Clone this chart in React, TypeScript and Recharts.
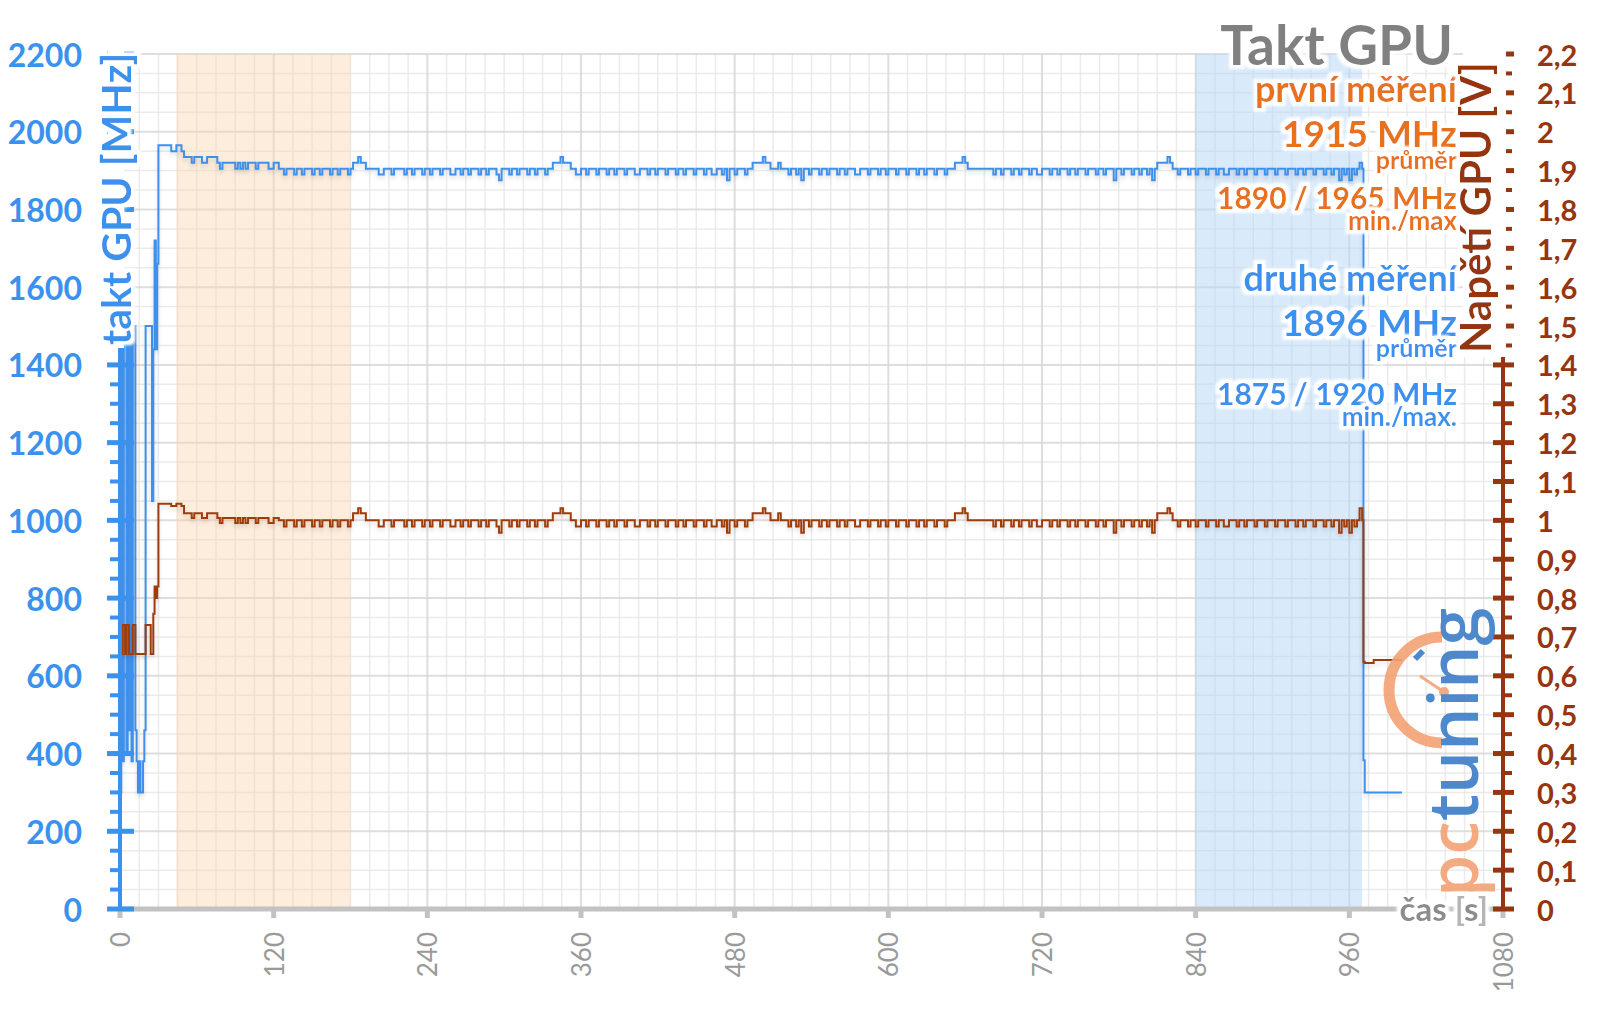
import { CartesianGrid, Line, LineChart, ReferenceArea, XAxis, YAxis } from 'recharts';

// colours
const BLUE = '#3b92ee';
const BLUE_LINE = '#3f90ea';
const BROWN = '#963510';
const BROWN_LINE = '#a03c0a';
const ORANGE = '#e8711c';
const GREY = '#808080';
const FONT = 'Lato, "Open Sans", sans-serif';

// first ~30 s, sampled every second
const warmupSeconds = [0, 1, 2, 3, 4, 5, 6, 7, 8, 9, 10, 11, 12, 13, 14, 15, 16, 17, 18, 19, 20, 21, 22, 23, 24, 25, 26, 27, 28, 29, 30, 31];
const warmupClockMHz = [300, 1450, 380, 1460, 1460, 400, 1470, 460, 1500, 380, 1500, 1500, 460, 380, 300, 380, 300, 300, 380, 460, 1500, 1500, 1500, 1500, 1500, 1050, 1440, 1720, 1440, 1660, 1965, 1965];
const warmupVoltageV = [0.656, 0.656, 0.731, 0.731, 0.656, 0.731, 0.731, 0.656, 0.656, 0.656, 0.731, 0.731, 0.656, 0.656, 0.656, 0.656, 0.656, 0.656, 0.656, 0.656, 0.731, 0.731, 0.731, 0.731, 0.656, 0.656, 0.76, 0.83, 0.8, 0.83, 1.043, 1.043];

// load phase, one sample every 2 s from 32 s to 970 s
const steadyStartS = 32;
const steadyStepS = 2;
const steadyClockMHz = [
    1965, 1965, 1965, 1965, 1950, 1950, 1965, 1965, 1950, 1935, // 32
    1935, 1935, 1920, 1935, 1935, 1935, 1920, 1920, 1935, 1935, // 52
    1935, 1935, 1920, 1905, 1920, 1920, 1920, 1920, 1920, 1905, // 72
    1920, 1905, 1920, 1905, 1920, 1920, 1920, 1905, 1920, 1920, // 92
    1920, 1920, 1905, 1905, 1920, 1920, 1905, 1905, 1890, 1905, // 112
    1905, 1905, 1890, 1905, 1905, 1890, 1905, 1905, 1905, 1890, // 132
    1905, 1905, 1890, 1905, 1905, 1905, 1890, 1905, 1905, 1890, // 152
    1905, 1905, 1905, 1890, 1905, 1920, 1920, 1935, 1920, 1920, // 172
    1905, 1905, 1905, 1905, 1905, 1890, 1890, 1905, 1905, 1905, // 192
    1890, 1905, 1905, 1905, 1905, 1890, 1905, 1905, 1890, 1905, // 212
    1905, 1905, 1890, 1905, 1905, 1890, 1905, 1905, 1905, 1890, // 232
    1905, 1905, 1905, 1890, 1890, 1905, 1905, 1890, 1905, 1905, // 252
    1890, 1905, 1905, 1905, 1890, 1905, 1905, 1890, 1905, 1905, // 272
    1905, 1890, 1875, 1905, 1905, 1905, 1890, 1905, 1905, 1890, // 292
    1905, 1905, 1905, 1890, 1905, 1905, 1890, 1905, 1905, 1905, // 312
    1890, 1905, 1905, 1920, 1920, 1920, 1935, 1920, 1920, 1920, // 332
    1905, 1905, 1890, 1890, 1905, 1905, 1890, 1905, 1905, 1905, // 352
    1890, 1905, 1905, 1905, 1890, 1905, 1905, 1890, 1905, 1905, // 372
    1905, 1890, 1905, 1905, 1905, 1890, 1890, 1905, 1905, 1905, // 392
    1890, 1905, 1905, 1890, 1905, 1905, 1905, 1890, 1905, 1905, // 412
    1905, 1890, 1905, 1905, 1890, 1905, 1905, 1905, 1890, 1905, // 432
    1905, 1905, 1890, 1905, 1905, 1890, 1890, 1905, 1905, 1890, // 452
    1905, 1875, 1905, 1905, 1890, 1905, 1905, 1905, 1890, 1905, // 472
    1905, 1920, 1920, 1920, 1920, 1935, 1920, 1920, 1905, 1905, // 492
    1905, 1920, 1905, 1905, 1905, 1890, 1905, 1905, 1890, 1905, // 512
    1875, 1905, 1905, 1890, 1905, 1905, 1905, 1890, 1905, 1905, // 532
    1890, 1905, 1905, 1905, 1890, 1905, 1905, 1890, 1905, 1905, // 552
    1905, 1890, 1890, 1905, 1905, 1905, 1890, 1905, 1905, 1905, // 572
    1890, 1905, 1905, 1890, 1905, 1905, 1905, 1890, 1905, 1905, // 592
    1905, 1890, 1905, 1905, 1905, 1890, 1905, 1905, 1890, 1905, // 612
    1905, 1905, 1890, 1905, 1905, 1905, 1890, 1905, 1905, 1905, // 632
    1920, 1920, 1920, 1935, 1920, 1905, 1905, 1905, 1905, 1905, // 652
    1905, 1905, 1905, 1905, 1905, 1890, 1905, 1905, 1890, 1905, // 672
    1905, 1905, 1890, 1905, 1905, 1890, 1905, 1905, 1905, 1890, // 692
    1905, 1905, 1890, 1890, 1905, 1905, 1905, 1890, 1905, 1905, // 712
    1890, 1905, 1905, 1905, 1890, 1905, 1905, 1890, 1905, 1905, // 732
    1905, 1890, 1905, 1905, 1905, 1890, 1905, 1905, 1890, 1905, // 752
    1905, 1905, 1875, 1905, 1905, 1890, 1905, 1905, 1905, 1890, // 772
    1905, 1905, 1890, 1905, 1905, 1890, 1905, 1875, 1905, 1920, // 792
    1920, 1920, 1920, 1935, 1920, 1905, 1905, 1890, 1905, 1905, // 812
    1905, 1890, 1905, 1905, 1890, 1905, 1905, 1905, 1890, 1905, // 832
    1905, 1905, 1890, 1905, 1905, 1890, 1890, 1905, 1905, 1905, // 852
    1890, 1905, 1905, 1890, 1905, 1905, 1905, 1890, 1905, 1905, // 872
    1905, 1890, 1905, 1905, 1905, 1890, 1905, 1905, 1905, 1890, // 892
    1905, 1905, 1905, 1890, 1905, 1905, 1890, 1905, 1905, 1905, // 912
    1890, 1905, 1905, 1905, 1890, 1905, 1905, 1890, 1905, 1905, // 932
    1875, 1905, 1890, 1905, 1875, 1905, 1890, 1905, 1920, 1905, // 952
];
const steadyVoltageV = [
    1.043, 1.043, 1.043, 1.043, 1.037, 1.037, 1.043, 1.043, 1.037, 1.018, // 32
    1.018, 1.018, 1.006, 1.018, 1.018, 1.018, 1.006, 1.006, 1.018, 1.018, // 52
    1.018, 1.018, 1.006, 0.993, 1.006, 1.006, 1.006, 1.006, 1.006, 0.993, // 72
    1.006, 0.993, 1.006, 0.993, 1.006, 1.006, 1.006, 0.993, 1.006, 1.006, // 92
    1.006, 1.006, 0.993, 0.993, 1.006, 1.006, 1, 1, 0.984, 1, // 112
    1, 1, 0.984, 1, 1, 0.984, 1, 1, 1, 0.984, // 132
    1, 1, 0.984, 1, 1, 1, 0.984, 1, 1, 0.984, // 152
    1, 1, 1, 0.984, 1, 1.018, 1.018, 1.031, 1.018, 1.018, // 172
    1, 1, 1, 1, 1, 0.984, 0.984, 1, 1, 1, // 192
    0.984, 1, 1, 1, 1, 0.984, 1, 1, 0.984, 1, // 212
    1, 1, 0.984, 1, 1, 0.984, 1, 1, 1, 0.984, // 232
    1, 1, 1, 0.984, 0.984, 1, 1, 0.984, 1, 1, // 252
    0.984, 1, 1, 1, 0.984, 1, 1, 0.984, 1, 1, // 272
    1, 0.984, 0.968, 1, 1, 1, 0.984, 1, 1, 0.984, // 292
    1, 1, 1, 0.984, 1, 1, 0.984, 1, 1, 1, // 312
    0.984, 1, 1, 1.018, 1.018, 1.018, 1.031, 1.018, 1.018, 1.018, // 332
    1, 1, 0.984, 0.984, 1, 1, 0.984, 1, 1, 1, // 352
    0.984, 1, 1, 1, 0.984, 1, 1, 0.984, 1, 1, // 372
    1, 0.984, 1, 1, 1, 0.984, 0.984, 1, 1, 1, // 392
    0.984, 1, 1, 0.984, 1, 1, 1, 0.984, 1, 1, // 412
    1, 0.984, 1, 1, 0.984, 1, 1, 1, 0.984, 1, // 432
    1, 1, 0.984, 1, 1, 0.984, 0.984, 1, 1, 0.984, // 452
    1, 0.968, 1, 1, 0.984, 1, 1, 1, 0.984, 1, // 472
    1, 1.018, 1.018, 1.018, 1.018, 1.031, 1.018, 1.018, 1, 1, // 492
    1, 1.018, 1, 1, 1, 0.984, 1, 1, 0.984, 1, // 512
    0.968, 1, 1, 0.984, 1, 1, 1, 0.984, 1, 1, // 532
    0.984, 1, 1, 1, 0.984, 1, 1, 0.984, 1, 1, // 552
    1, 0.984, 0.984, 1, 1, 1, 0.984, 1, 1, 1, // 572
    0.984, 1, 1, 0.984, 1, 1, 1, 0.984, 1, 1, // 592
    1, 0.984, 1, 1, 1, 0.984, 1, 1, 0.984, 1, // 612
    1, 1, 0.984, 1, 1, 1, 0.984, 1, 1, 1, // 632
    1.018, 1.018, 1.018, 1.031, 1.018, 1, 1, 1, 1, 1, // 652
    1, 1, 1, 1, 1, 0.984, 1, 1, 0.984, 1, // 672
    1, 1, 0.984, 1, 1, 0.984, 1, 1, 1, 0.984, // 692
    1, 1, 0.984, 0.984, 1, 1, 1, 0.984, 1, 1, // 712
    0.984, 1, 1, 1, 0.984, 1, 1, 0.984, 1, 1, // 732
    1, 0.984, 1, 1, 1, 0.984, 1, 1, 0.984, 1, // 752
    1, 1, 0.968, 1, 1, 0.984, 1, 1, 1, 0.984, // 772
    1, 1, 0.984, 1, 1, 0.984, 1, 0.968, 1, 1.018, // 792
    1.018, 1.018, 1.018, 1.031, 1.018, 1, 1, 0.984, 1, 1, // 812
    1, 0.984, 1, 1, 0.984, 1, 1, 1, 0.984, 1, // 832
    1, 1, 0.984, 1, 1, 0.984, 0.984, 1, 1, 1, // 852
    0.984, 1, 1, 0.984, 1, 1, 1, 0.984, 1, 1, // 872
    1, 0.984, 1, 1, 1, 0.984, 1, 1, 1, 0.984, // 892
    1, 1, 1, 0.984, 1, 1, 0.984, 1, 1, 1, // 912
    0.984, 1, 1, 1, 0.984, 1, 1, 0.984, 1, 1, // 932
    0.968, 1, 0.984, 1, 0.968, 1, 0.984, 1, 1.031, 1, // 952
];

// after the load stops
const cooldownSeconds = [971, 972, 978, 979, 1001];
const cooldownClockMHz = [383, 300, 300, 300, 300];
const cooldownVoltageV = [0.636, 0.633, 0.633, 0.641, 0.641];

// highlighted measuring windows
const firstWindowS = [44, 180];
const secondWindowS = [840, 970];

const timeTicks = [0, 120, 240, 360, 480, 600, 720, 840, 960, 1080];
const timeMinorStep = 15;
const clockLabelStep = 200;
const clockMinorStep = 50;
const clockMax = 2200;
const voltMax = 2.2;

const chartData = [
    ...warmupSeconds.map((t, i) => ({ t, clock: warmupClockMHz[i], volt: warmupVoltageV[i] })),
    ...steadyClockMHz.map((clock, i) => ({ t: steadyStartS + i * steadyStepS, clock, volt: steadyVoltageV[i] })),
    ...cooldownSeconds.map((t, i) => ({ t, clock: cooldownClockMHz[i], volt: cooldownVoltageV[i] })),
];

const clockTicks = Array.from({ length: clockMax / clockMinorStep + 1 }, (_, i) => i * clockMinorStep);
const voltTicks = Array.from({ length: 45 }, (_, i) => Math.round(i * 5) / 100);
const timeMinor = Array.from({ length: 1080 / timeMinorStep + 1 }, (_, i) => i * timeMinorStep).filter(v => v % 120 !== 0);
const clockMinor = clockTicks.filter(v => v % clockLabelStep !== 0);
const clockMajor = clockTicks.filter(v => v % clockLabelStep === 0);

const fmtVolt = (v: number) => (Math.abs(v - Math.round(v)) < 1e-6 ? String(Math.round(v)) : v.toFixed(1).replace('.', ','));

function ClockTick({ x, y, payload }: any) {
    const major = payload.value % clockLabelStep === 0;
    return (
        <g>
            <line x1={major ? x - 13 : x - 10} x2={major ? x + 14 : x - 1} y1={y} y2={y} stroke={BLUE} strokeWidth={major ? 5 : 4} />
            {major && (
                <text x={x - 38} y={y} textAnchor="end" dominantBaseline="central" fill={BLUE} fontSize={32} fontWeight={700} fontFamily={FONT}>
                    {payload.value}
                </text>
            )}
        </g>
    );
}

function VoltTick({ x, y, payload }: any) {
    const major = Math.round(payload.value * 100) % 10 === 0;
    return (
        <g>
            <line x1={major ? x - 10 : x} x2={major ? x + 11 : x + 9} y1={y} y2={y} stroke={BROWN} strokeWidth={major ? 5 : 4} />
            {major && (
                <text x={x + 34} y={y} textAnchor="start" dominantBaseline="central" fill={BROWN} fontSize={29} fontWeight={700} fontFamily={FONT}>
                    {fmtVolt(payload.value)}
                </text>
            )}
        </g>
    );
}

function TimeTick({ x, y, payload }: any) {
    return (
        <g>
            <line x1={x} x2={x} y1={y} y2={y + 9} stroke="#c2c2c2" strokeWidth={5} />
            <text x={x} y={y + 23} transform={`rotate(-90, ${x}, ${y + 23})`} textAnchor="end" dominantBaseline="central" fill="#9a9a9a" fontSize={26} fontFamily={FONT}>
                {payload.value}
            </text>
        </g>
    );
}

function Notes() {
    const rx = 1457;
    const t = (y: number, size: number, color: string, s: string) => (
        <text x={rx} y={y} textAnchor="end" fill={color} fontSize={size} fontWeight={700} fontFamily={FONT} filter="url(#halo)">{s}</text>
    );
    return (
        <svg width={1600} height={1009} style={{ position: 'absolute', left: 0, top: 0, pointerEvents: 'none' }}>
            <defs>
                <filter id="halo" x="-10%" y="-30%" width="120%" height="160%">
                    <feMorphology in="SourceAlpha" operator="dilate" radius={4} result="grown" />
                    <feGaussianBlur in="grown" stdDeviation={1.2} result="soft" />
                    <feFlood floodColor="#ffffff" />
                    <feComposite in2="soft" operator="in" result="glow" />
                    <feMerge>
                        <feMergeNode in="glow" />
                        <feMergeNode in="SourceGraphic" />
                    </feMerge>
                </filter>
            </defs>
            {/* pctuning watermark */}
            <g opacity={0.9}>
                <path d="M 1442 637 A 53 53 0 0 0 1442 743" fill="none" stroke="#f4a274" strokeWidth={11} />
                <line x1={1444} y1={692} x2={1420} y2={676} stroke="#f4a274" strokeWidth={3} />
                <circle cx={1444} cy={692} r={5} fill="#f4a274" />
                <line x1={1415} y1={659} x2={1423} y2={651} stroke="#3d7dc8" strokeWidth={6} />
                <text x={1478} y={897} transform="rotate(-90, 1478, 897)" fontSize={68} fontWeight={600} fontFamily='"Open Sans", sans-serif'>
                    <tspan fill="#f4a274">pc</tspan>
                    <tspan fill="#3d7dc8">tuning</tspan>
                </text>
            </g>
            <text x={1453} y={65} textAnchor="end" fill={GREY} fontSize={55} fontWeight={700} fontFamily={FONT} filter="url(#halo)">Takt GPU</text>
            {t(102, 36, ORANGE, 'první měření')}
            {t(147, 37, ORANGE, '1915 MHz')}
            {t(169, 25, ORANGE, 'průměr')}
            {t(209, 30, ORANGE, '1890 / 1965 MHz')}
            {t(230, 26, ORANGE, 'min./max')}
            {t(291, 36, BLUE, 'druhé měření')}
            {t(336, 37, BLUE, '1896 MHz')}
            {t(357, 25, BLUE, 'průměr')}
            {t(405, 30, BLUE, '1875 / 1920 MHz')}
            {t(426, 26, BLUE, 'min./max.')}
            {/* axis titles sit on a white band that hides the axis line */}
            <rect x={108} y={50} width={16} height={298} fill="#fff" />
            <text x={131} y={345} transform="rotate(-90, 131, 345)" fill={BLUE} fontSize={41} fontWeight={700} fontFamily={FONT} filter="url(#halo)">takt GPU [MHz]</text>
            <rect x={1463} y={48} width={43} height={309} fill="#fff" />
            <text x={1491} y={353} transform="rotate(-90, 1491, 353)" fill={BROWN} fontSize={42} fontWeight={700} fontFamily={FONT} filter="url(#halo)">Napětí GPU [V]</text>
            <text x={1488} y={921} textAnchor="end" fontSize={33} fontWeight={700} fontFamily={FONT} filter="url(#halo)">
                <tspan fill="#8c8c8c">čas </tspan>
                <tspan fill="#b5b5b5">[</tspan>
                <tspan fill="#8c8c8c">s</tspan>
                <tspan fill="#b5b5b5">]</tspan>
            </text>
        </svg>
    );
}

export default function App() {
    return (
        <div style={{ position: 'absolute', left: 0, top: 0, width: 1600, height: 1009, background: '#fff' }}>
            <style>{'.recharts-line-curve { filter: drop-shadow(0px 3px 2px rgba(0,0,0,0.13)); }'}</style>
            <LineChart width={1600} height={1009} data={chartData} margin={{ top: 54, right: 0, bottom: 0, left: 0 }}>
                <ReferenceArea yAxisId="clock" x1={firstWindowS[0]} x2={firstWindowS[1]} fill="#fbd4ad" fillOpacity={0.42} stroke="none" />
                <ReferenceArea yAxisId="clock" x1={secondWindowS[0]} x2={secondWindowS[1]} fill="#b3d5f8" fillOpacity={0.5} stroke="none" />
                <CartesianGrid yAxisId="clock" verticalValues={timeMinor} horizontalValues={clockMinor} stroke="#e6e6e6" strokeWidth={1.5} strokeOpacity={0.8} />
                <CartesianGrid yAxisId="clock" verticalValues={timeTicks} horizontalValues={clockMajor} stroke="#d6d6d6" strokeWidth={2} strokeOpacity={0.8} />
                <XAxis
                    dataKey="t"
                    type="number"
                    domain={[0, 1080]}
                    ticks={timeTicks}
                    interval={0}
                    height={100}
                    tickSize={0}
                    tickMargin={0}
                    tickLine={false}
                    tick={<TimeTick />}
                    axisLine={{ stroke: '#c2c2c2', strokeWidth: 5 }}
                />
                <YAxis
                    yAxisId="clock"
                    domain={[0, clockMax]}
                    ticks={clockTicks}
                    interval={0}
                    width={120}
                    tickSize={0}
                    tickMargin={0}
                    tickLine={false}
                    tick={<ClockTick />}
                    axisLine={{ stroke: BLUE, strokeWidth: 4 }}
                />
                <YAxis
                    yAxisId="volt"
                    orientation="right"
                    domain={[0, voltMax]}
                    ticks={voltTicks}
                    interval={0}
                    width={97}
                    tickSize={0}
                    tickMargin={0}
                    tickLine={false}
                    tick={<VoltTick />}
                    axisLine={{ stroke: BROWN, strokeWidth: 4 }}
                />
                <Line yAxisId="clock" type="stepAfter" dataKey="clock" stroke={BLUE_LINE} strokeWidth={2} dot={false} isAnimationActive={false} />
                <Line yAxisId="volt" type="stepAfter" dataKey="volt" stroke={BROWN_LINE} strokeWidth={2} dot={false} isAnimationActive={false} />
            </LineChart>
            <Notes />
        </div>
    );
}
